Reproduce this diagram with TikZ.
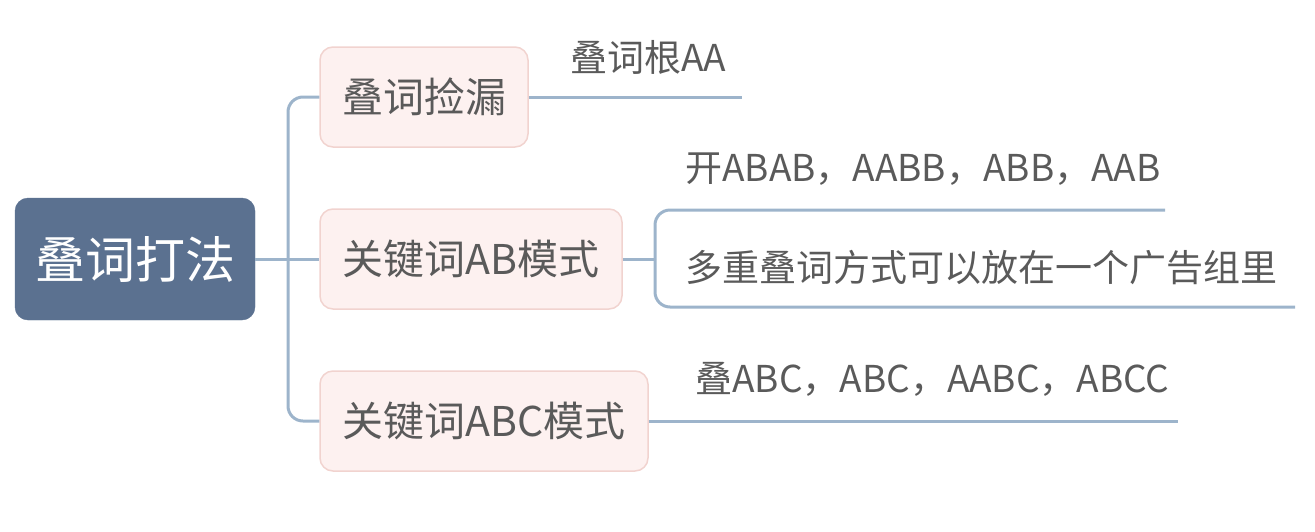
\documentclass[tikz,border=0pt]{standalone}
\usepackage{fontspec}
\setmainfont{Noto Sans CJK SC}
\usetikzlibrary{calc}
\definecolor{rootfill}{HTML}{5B7190}
\definecolor{childfill}{HTML}{FDF1F0}
\definecolor{childdraw}{HTML}{F1D3CF}
\definecolor{conncol}{HTML}{9DB4CB}
\definecolor{txt}{HTML}{5A5A5A}
\tikzset{
  rootbox/.style={fill=rootfill, draw=rootfill, rounded corners=13pt, text=white,
    font=\fontsize{50}{56}\selectfont, minimum width=240pt, minimum height=122pt, inner sep=0pt},
  childbox/.style={fill=childfill, draw=childdraw, line width=1.5pt, rounded corners=13pt, text=txt,
    font=\fontsize{41}{48}\selectfont, minimum height=100pt, inner sep=0pt},
  leaftext/.style={text=txt, font=\fontsize{37}{43}\selectfont, inner sep=0pt, anchor=west},
  conn/.style={draw=conncol, line width=3pt, rounded corners=15pt}
}
\begin{document}
\begin{tikzpicture}[x=1pt,y=-1pt]
\useasboundingbox (0,0) rectangle (1315,531);
\node[rootbox] (root) at (135,259) {叠词打法};
\node[childbox, minimum width=208pt] (c1) at (424,97) {叠词捡漏};
\node[childbox, minimum width=302pt] (c2) at (471,259) {关键词AB模式};
\node[childbox, minimum width=328pt] (c3) at (484,421) {关键词ABC模式};
\coordinate (trunk) at (288,259);
\draw[conn] (root.east) -- (c2.west);
\draw[conn] (trunk) |- (c1.west);
\draw[conn] (trunk) |- (c3.west);
% leaves of c1
\coordinate (l1end) at (742,97);
\draw[conn] (c1.east) -- (l1end);
\node[leaftext] (t1) at (570,57) {叠词根AA};
% leaves of c2
\coordinate (br) at (655,259);
\coordinate (l2aend) at (1165,210);
\coordinate (l2bend) at (1295,307);
\draw[conn] (c2.east) -- (br);
\draw[conn] (br) |- (l2aend);
\draw[conn] (br) |- (l2bend);
\node[leaftext] (t2a) at (685,169) {开ABAB，AABB，ABB，AAB};
\node[leaftext] (t2b) at (685,268) {多重叠词方式可以放在一个广告组里};
% leaves of c3
\coordinate (l3end) at (1178,421);
\draw[conn] (c3.east) -- (l3end);
\node[leaftext] (t3) at (695,379) {叠ABC，ABC，AABC，ABCC};
\end{tikzpicture}
\end{document}
